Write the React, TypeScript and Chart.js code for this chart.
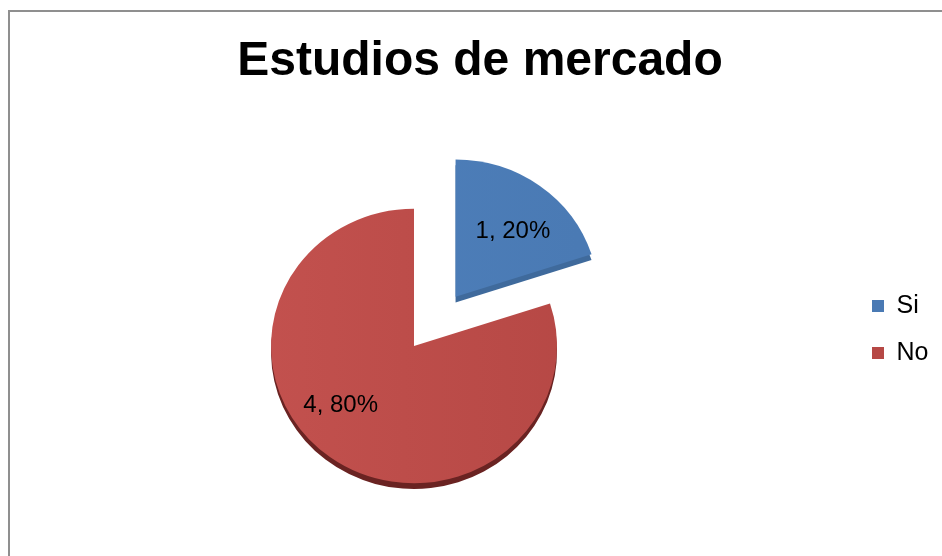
import React, { useEffect, useRef } from "react";
import { Chart, registerables } from "chart.js";

Chart.register(...registerables);

const titleText = "Estudios de mercado";
const categories = ["Si", "No"];
const seriesValues = [1, 4];
const sliceColors = ["#4F81BD", "#C4524F"];
const sliceShadeColors = ["#4A7AB4", "#B64845"];
const sliceDepthColors = ["#3F6A9C", "#6A2322"];
const explodeDistance = [66, 0];
const labelPlacement = [
  { ratio: 0.6, turn: 6 },
  { ratio: 0.66, turn: 15 },
];

const FONT = "'Liberation Sans', Arial, Helvetica, sans-serif";
const PIE_RADIUS = 143;
const TILT = 0.96;
const DEPTH = 6;
const LEGEND_WIDTH = 132;

const tiltPlugin = {
  id: "pieTilt",
  beforeDatasetsDraw(chart: any) {
    const { chartArea, ctx } = chart;
    const cy = (chartArea.top + chartArea.bottom) / 2;
    ctx.save();
    ctx.translate(0, cy);
    ctx.scale(1, TILT);
    ctx.translate(0, -cy);
  },
  afterDatasetsDraw(chart: any) {
    chart.ctx.restore();
  },
};

const explodePlugin = {
  id: "explodeSlices",
  afterDatasetsUpdate(chart: any) {
    const meta = chart.getDatasetMeta(0);
    meta.data.forEach((arc: any, i: number) => {
      const d = explodeDistance[i] || 0;
      if (!d) return;
      const mid = (arc.startAngle + arc.endAngle) / 2 + (3 * Math.PI) / 180;
      arc.x += Math.cos(mid) * d;
      arc.y += Math.sin(mid) * d;
    });
  },
};

const depthPlugin = {
  id: "pieDepth",
  beforeDatasetsDraw(chart: any) {
    const ctx = chart.ctx;
    const meta = chart.getDatasetMeta(0);
    meta.data.forEach((arc: any, i: number) => {
      ctx.save();
      ctx.translate(0, DEPTH);
      ctx.beginPath();
      ctx.moveTo(arc.x, arc.y);
      ctx.arc(arc.x, arc.y, arc.outerRadius, arc.startAngle, arc.endAngle);
      ctx.closePath();
      ctx.fillStyle = sliceDepthColors[i];
      ctx.fill();
      ctx.restore();
    });
  },
};

const labelPlugin = {
  id: "sliceLabels",
  afterDatasetsDraw(chart: any) {
    const ctx = chart.ctx;
    const meta = chart.getDatasetMeta(0);
    const data = chart.data.datasets[0].data as number[];
    const total = data.reduce((a, b) => a + b, 0);
    ctx.save();
    ctx.font = `24px ${FONT}`;
    ctx.fillStyle = "#000";
    ctx.textAlign = "center";
    ctx.textBaseline = "middle";
    meta.data.forEach((arc: any, i: number) => {
      const p = labelPlacement[i];
      const mid = (arc.startAngle + arc.endAngle) / 2 + (p.turn * Math.PI) / 180;
      const r = arc.outerRadius * p.ratio;
      const x = arc.x + Math.cos(mid) * r;
      const y = arc.y + Math.sin(mid) * r;
      const pct = Math.round((data[i] / total) * 100);
      ctx.fillText(`${data[i]}, ${pct}%`, x, y);
    });
    ctx.restore();
  },
};

const legendWidthPlugin = {
  id: "legendWidth",
  beforeInit(chart: any) {
    const legend = chart.legend;
    if (!legend) return;
    const origFit = legend.fit;
    legend.fit = function fit() {
      origFit.call(this);
      this.width = Math.max(this.width, LEGEND_WIDTH);
    };
  },
};

export default function App() {
  const canvasRef = useRef<HTMLCanvasElement | null>(null);

  useEffect(() => {
    if (!canvasRef.current) return;
    Chart.defaults.font.family = FONT;
    const chart = new Chart(canvasRef.current, {
      type: "pie",
      data: {
        labels: categories,
        datasets: [
          {
            data: seriesValues,
            backgroundColor: (c: any) => {
              const i = c.dataIndex;
              const chartArea = c.chart.chartArea;
              if (!chartArea) return sliceColors[i];
              const g = c.chart.ctx.createLinearGradient(chartArea.left + 250, 0, chartArea.left + 600, 0);
              g.addColorStop(0, sliceColors[i]);
              g.addColorStop(1, sliceShadeColors[i]);
              return g;
            },
            borderWidth: 0,
            radius: PIE_RADIUS,
            clip: false,
          } as any,
        ],
      },
      options: {
        responsive: false,
        animation: false,
        events: [],
        layout: { padding: 0 },
        plugins: {
          title: {
            display: true,
            text: titleText,
            color: "#000",
            font: { size: 48, weight: "bold", family: FONT },
            padding: { top: 33, bottom: 45.4 },
          },
          legend: {
            display: true,
            position: "right",
            align: "start",
            title: {
              display: true,
              text: " ",
              font: { size: 10 },
              padding: { top: 0, bottom: 259.5 },
            },
            labels: {
              color: "#000",
              font: { size: 25, family: FONT },
              boxWidth: 12,
              boxHeight: 12,
              padding: 22,
            },
          },
          tooltip: { enabled: false },
        },
      },
      plugins: [tiltPlugin, explodePlugin, depthPlugin, labelPlugin, legendWidthPlugin],
    });
    return () => chart.destroy();
  }, []);

  return (
    <div
      style={{
        position: "absolute",
        left: 0,
        top: 0,
        width: 942,
        height: 556,
        overflow: "hidden",
        background: "#fff",
      }}
    >
      <div
        style={{
          position: "absolute",
          left: 8,
          top: 10,
          width: 1000,
          height: 600,
          borderTop: "2px solid #8f8f8f",
          borderLeft: "2px solid #8f8f8f",
        }}
      />
      <canvas
        ref={canvasRef}
        width={1004}
        height={556}
        style={{ position: "absolute", left: -22, top: 0, width: 1004, height: 556 }}
      />
    </div>
  );
}
